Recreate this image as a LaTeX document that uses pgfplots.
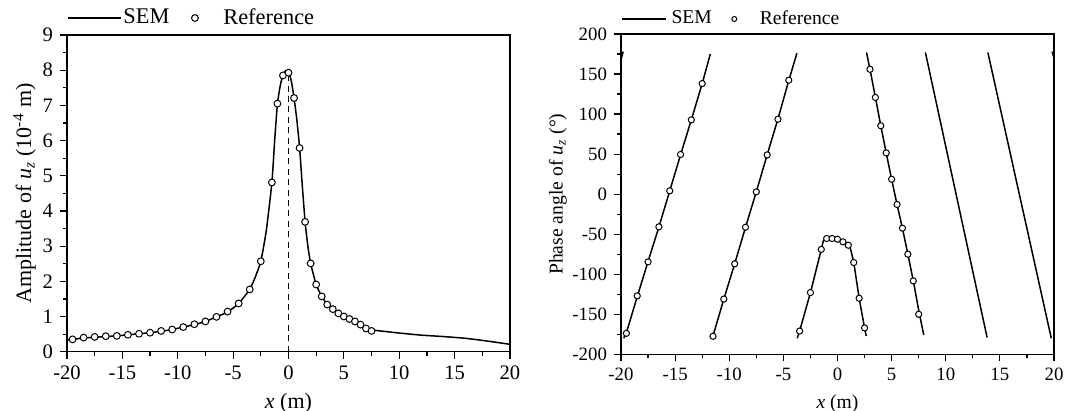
\documentclass[border=0pt]{standalone}
\usepackage{pgfplots}
\pgfplotsset{compat=1.18}
\usepackage{fontspec}
\setmainfont{Liberation Serif}
\begin{document}
\begin{tikzpicture}[x=1pt,y=1pt]
\useasboundingbox (0,0) rectangle (533.5,205.5);
\pgfplotsset{
  myax/.style={
    scale only axis,
    axis line style={line width=0.7pt},
    tick align=outside, xtick pos=bottom, ytick pos=left,
    major tick length=3.5pt, minor tick length=2pt,
    every tick/.style={black, line width=0.6pt},
    /pgf/number format/assume math mode=true,
    xmin=-20, xmax=20, xtick={-20,-15,...,20}, minor x tick num=1,
    legend columns=2,
    legend style={draw=none, fill=none, at={(0,1)}, anchor=west,
      inner sep=0pt, outer sep=0pt, nodes={inner sep=0pt, outer sep=0pt},
      column sep=0pt,
      /tikz/every even column/.append style={column sep=0pt}},
    legend cell align=left,
  },
  sem/.style={black, line width=0.75pt, mark=none,
    legend image code/.code={\draw[##1] (0pt,0pt) -- (26.5pt,0pt);}},
  semR/.style={black, line width=0.75pt, mark=none,
    legend image code/.code={\draw[##1] (0pt,0pt) -- (22pt,0pt);}},
  refm/.style={only marks, mark=*, mark options={fill=white, draw=black, line width=0.5pt},
    legend image code/.code={\draw[##1] plot coordinates {(0pt,0pt)};}},
  refR/.style={only marks, mark=*, mark options={fill=white, draw=black, line width=0.5pt},
    legend image code/.code={\draw[##1] plot[mark size=1.25pt] coordinates {(0pt,0pt)};}},
}
% ---------------- left: amplitude ----------------
\begin{axis}[myax, at={(33.5pt,29.65pt)}, anchor=south west,
  width=221.5pt, height=158.35pt,
  ymin=0, ymax=9, ytick={0,1,...,9}, minor y tick num=1,
  tick label style={font=\fontsize{10.3}{12}\selectfont},
  label style={font=\fontsize{11}{13}\selectfont},
  legend style={font=\fontsize{11.2}{13}\selectfont, yshift=8.5pt},
  xlabel={\textit{x} (m)},
  ylabel={Amplitude of \textit{u}\textsubscript{\textit{z}} (10\textsuperscript{-4} m)},
  ylabel shift=-3.5pt,
  mark size=1.7pt]
\addplot[sem, smooth, tension=0.35] coordinates {
(-20,0.33) (-19.5,0.35) (-18.5,0.39) (-17.5,0.41) (-16.5,0.43) (-15.5,0.45)
(-14.5,0.48) (-13.5,0.51) (-12.5,0.54) (-11.5,0.58) (-10.5,0.63) (-9.5,0.70)
(-8.5,0.77) (-7.5,0.86) (-6.5,0.99) (-5.5,1.13) (-4.5,1.37) (-3.5,1.77)
(-3,2.12) (-2.5,2.57) (-2,3.45) (-1.5,4.81) (-1.25,6.0) (-1,7.04) (-0.75,7.55)
(-0.5,7.87) (-0.25,7.99) (0,7.96) (0.25,7.7) (0.5,7.21) (0.75,6.6) (1,5.8)
(1.25,4.7) (1.5,3.69) (1.75,3.0) (2,2.51) (2.5,1.91) (3,1.57) (3.5,1.34)
(4,1.2) (4.5,1.09) (5,1.0) (5.5,0.93) (6,0.86) (6.5,0.77) (7,0.68) (7.5,0.62)
(8,0.60) (10,0.53) (12,0.47) (14,0.43) (16,0.38) (18,0.30) (20,0.21)};
\addlegendentry{\kern1pt SEM\kern11pt\relax}
\addplot[refm] coordinates {
(-19.5,0.35) (-18.5,0.40) (-17.5,0.42) (-16.5,0.44) (-15.5,0.45) (-14.5,0.48)
(-13.5,0.51) (-12.5,0.54) (-11.5,0.59) (-10.5,0.63) (-9.5,0.70) (-8.5,0.78)
(-7.5,0.86) (-6.5,0.99) (-5.5,1.14) (-4.5,1.37) (-3.5,1.77) (-2.5,2.57)
(-1.5,4.81) (-1,7.05) (-0.5,7.85) (0,7.93) (0.5,7.21) (1,5.79)
(1.5,3.69) (2,2.51) (2.5,1.91) (3,1.57) (3.5,1.34) (4,1.21) (4.5,1.09)
(5,1.00) (5.5,0.93) (6,0.86) (6.5,0.77) (7,0.66) (7.5,0.59)};
\addlegendentry{\kern12.5pt Reference}
\addplot[black, line width=0.75pt, dash pattern=on 3pt off 2.2pt, forget plot] coordinates {(0,0) (0,7.92)};
\end{axis}
% ---------------- right: phase ----------------
\begin{axis}[myax, at={(310.5pt,28.35pt)}, anchor=south west,
  width=216.5pt, height=160.15pt,
  ymin=-200, ymax=200, ytick={-200,-150,...,200}, minor y tick num=1,
  tick label style={font=\fontsize{9.4}{11}\selectfont},
  label style={font=\fontsize{9.8}{12}\selectfont},
  legend style={font=\fontsize{9.8}{12}\selectfont, yshift=7.5pt},
  xlabel={\textit{x} (m)},
  ylabel={Phase angle of \textit{u}\textsubscript{\textit{z}} (°)},
  ylabel shift=-4pt,
  mark size=1.55pt]
\addplot[semR] coordinates {
(-19.75,-180) (-19.5,-173) (-18.5,-128) (-17.5,-84) (-16.5,-41) (-15.5,4)
(-14.5,49) (-13.5,93) (-12.5,138) (-11.75,175)};
\addlegendentry{\kern2.5pt SEM\kern10pt\relax}
\addplot[refR] coordinates {
(-19.5,-173.8) (-18.5,-127) (-17.5,-84.6) (-16.5,-40.8) (-15.5,4.1) (-14.5,49.5)
(-13.5,92.8) (-12.5,138.1)
(-11.5,-177.5) (-10.5,-131) (-9.5,-87) (-8.5,-41.3) (-7.5,2.9) (-6.5,49)
(-5.5,93.6) (-4.5,142.3)
(-3.5,-171) (-2.5,-122.9) (-1.5,-69) (-1,-55.4) (-0.5,-55.4) (0,-56.3)
(0.5,-59.6) (1,-63.8) (1.5,-85.4) (2,-130) (2.5,-167)
(3,155.9) (3.5,120.8) (4,85.4) (4.5,51.5) (5,18.6) (5.5,-12.9) (6,-42.5)
(6.5,-75) (7,-108.3) (7.5,-150)};
\addlegendentry{\kern11.5pt Reference}
\addplot[sem, forget plot] coordinates {(-20,168) (-19.8,178)};
\addplot[sem, forget plot] coordinates {
(-11.55,-179) (-11.5,-177) (-10.5,-131) (-9.5,-87) (-8.5,-41.5) (-7.5,3)
(-6.5,49) (-5.5,94) (-4.5,142) (-3.75,176)};
\addplot[sem, forget plot] coordinates {
(-3.72,-180) (-3.5,-171) (-2.5,-123) (-1.5,-69) (-1.3,-58) (-1.1,-55.5)
(-0.5,-55) (0,-56) (0.5,-59.5) (1,-63.5) (1.2,-68) (1.5,-85) (2,-130)
(2.5,-167) (2.65,-177)};
\addplot[sem, forget plot] coordinates {
(2.68,177) (3,156) (3.5,121) (4,85.4) (4.5,51.5) (5,18.6) (5.5,-13)
(6,-42.5) (6.5,-75) (7,-108) (7.5,-145) (7.97,-176)};
\addplot[sem, forget plot] coordinates {(8.12,177) (13.82,-179)};
\addplot[sem, forget plot] coordinates {(13.89,177) (19.75,-180)};
\addplot[sem, forget plot] coordinates {(19.83,178) (20,170)};
\end{axis}
\end{tikzpicture}
\end{document}
